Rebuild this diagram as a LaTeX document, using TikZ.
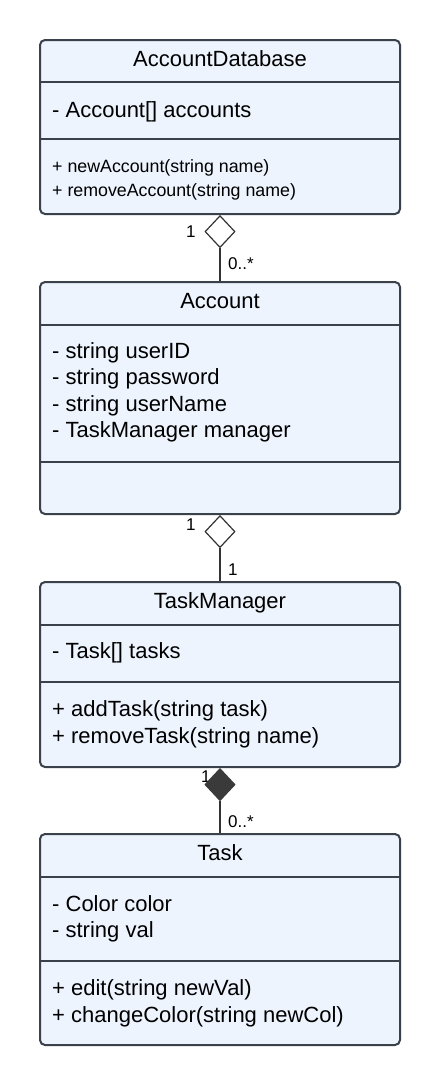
\documentclass[tikz,border=0pt]{standalone}
\usepackage{fontspec}
\setmainfont{Liberation Sans}
\usetikzlibrary{shapes.geometric}
\definecolor{boxfill}{HTML}{EDF4FE}
\definecolor{boxline}{HTML}{3A414A}
\definecolor{connline}{HTML}{333333}
\definecolor{diafill}{HTML}{3A3A3A}
\tikzset{
  classbox/.style={draw=boxline, fill=boxfill, line width=2pt, rounded corners=5pt,
    rectangle, minimum width=360pt, inner sep=0pt},
  divider/.style={draw=boxline, line width=2pt},
  ctitle/.style={anchor=base, inner sep=0pt, font=\fontsize{22}{26}\selectfont},
  member/.style={anchor=base west, inner sep=0pt, font=\fontsize{22}{26}\selectfont},
  smallmember/.style={anchor=base west, inner sep=0pt, font=\fontsize{17.8}{21}\selectfont},
  mult/.style={anchor=base west, inner sep=0pt, font=\fontsize{17}{20}\selectfont, text=black},
  opendia/.style={diamond, draw=connline, fill=white, line width=1.2pt, minimum width=30pt, minimum height=32pt, inner sep=0pt},
  filldia/.style={diamond, draw=diafill, fill=diafill, line width=1.2pt, minimum width=30pt, minimum height=32pt, inner sep=0pt},
  conn/.style={draw=connline, line width=1.2pt},
}
\begin{document}
\begin{tikzpicture}[x=1pt,y=-1pt]
\useasboundingbox (0,0) rectangle (440,1085);
\fill[white] (0,0) rectangle (440,1085);

% AccountDatabase
\node[classbox, minimum height=174pt] (ad) at (220,127) {};
\draw[divider] (40,82) -- (400,82);
\draw[divider] (40,139) -- (400,139);
\node[ctitle] (adt) at (220,66) {AccountDatabase};
\node[member] (ada) at (52,117) {- Account[] accounts};
\node[smallmember] (adm1) at (52,172.5) {+ newAccount(string name)};
\node[smallmember] (adm2) at (52,196) {+ removeAccount(string name)};

% Account
\node[classbox, minimum height=232pt] (acc) at (220,398) {};
\draw[divider] (40,325) -- (400,325);
\draw[divider] (40,462) -- (400,462);
\node[ctitle] (acct) at (220,308) {Account};
\node[member] (acca1) at (52,358) {- string userID};
\node[member] (acca2) at (52,384.5) {- string password};
\node[member] (acca3) at (52,411) {- string userName};
\node[member] (acca4) at (52,437.5) {- TaskManager manager};

% TaskManager
\node[classbox, minimum height=185pt] (tm) at (220,674.5) {};
\draw[divider] (40,625) -- (400,625);
\draw[divider] (40,682) -- (400,682);
\node[ctitle] (tmt) at (220,608) {TaskManager};
\node[member] (tma) at (52,658) {- Task[] tasks};
\node[member] (tmm1) at (52,716.5) {+ addTask(string task)};
\node[member] (tmm2) at (52,743) {+ removeTask(string name)};

% Task
\node[classbox, minimum height=211pt] (task) at (220,939.5) {};
\draw[divider] (40,877) -- (400,877);
\draw[divider] (40,961) -- (400,961);
\node[ctitle] (taskt) at (220,860) {Task};
\node[member] (taska1) at (52,911) {- Color color};
\node[member] (taska2) at (52,937.5) {- string val};
\node[member] (taskm1) at (52,995) {+ edit(string newVal)};
\node[member] (taskm2) at (52,1022) {+ changeColor(string newCol)};

% connectors
\node[opendia, anchor=north] (d1) at (ad.south) {};
\draw[conn] (d1.south) -- (acc.north);
\node[mult] (m1a) at (186,237) {1};
\node[mult] (m1b) at (228,269) {0..*};

\node[opendia, anchor=north] (d2) at (acc.south) {};
\draw[conn] (d2.south) -- (tm.north);
\node[mult] (m2a) at (186,530) {1};
\node[mult] (m2b) at (228,575) {1};

\node[mult] (m3a) at (201,782) {1};
\node[filldia, anchor=north] (d3) at (tm.south) {};
\draw[conn] (d3.south) -- (task.north);
\node[mult] (m3b) at (228,827) {0..*};
\end{tikzpicture}
\end{document}
